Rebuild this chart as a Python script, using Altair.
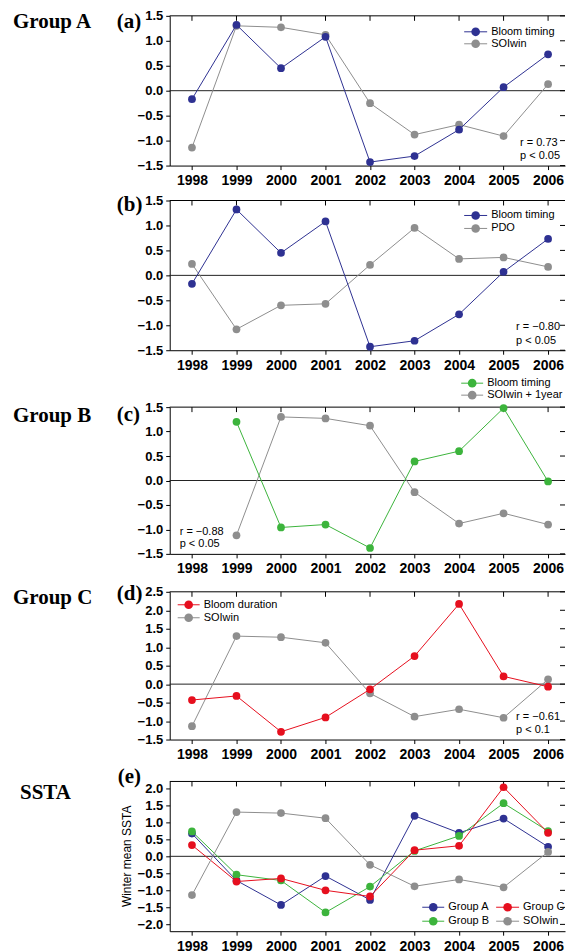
import altair as alt
import pandas as pd

years = [1998, 1999, 2000, 2001, 2002, 2003, 2004, 2005, 2006]
years_lag = [1999, 2000, 2001, 2002, 2003, 2004, 2005, 2006]

bloom_timing_a = [-0.17, 1.32, 0.45, 1.08, -1.43, -1.31, -0.78, 0.07, 0.73]
soi_win = [-1.14, 1.30, 1.27, 1.12, -0.25, -0.88, -0.68, -0.91, 0.13]
pdo = [0.23, -1.08, -0.60, -0.57, 0.21, 0.95, 0.33, 0.36, 0.17]
bloom_timing_b = [1.20, -0.96, -0.90, -1.38, 0.39, 0.60, 1.48, -0.02]
soi_win_lag = [-1.12, 1.30, 1.27, 1.12, -0.24, -0.88, -0.67, -0.90]
bloom_duration_c = [-0.43, -0.32, -1.29, -0.90, -0.14, 0.76, 2.17, 0.21, -0.07]
ssta_a = [0.67, -0.71, -1.43, -0.58, -1.28, 1.19, 0.69, 1.11, 0.28]
ssta_b = [0.73, -0.54, -0.71, -1.65, -0.89, 0.16, 0.60, 1.56, 0.74]
ssta_c = [0.33, -0.74, -0.65, -1.00, -1.18, 0.18, 0.31, 2.03, 0.69]

ticks_ab = [-1.5, -1.0, -0.5, 0.0, 0.5, 1.0, 1.5]
ticks_d = [-1.5, -1.0, -0.5, 0.0, 0.5, 1.0, 1.5, 2.0, 2.5]
ticks_e = [-2.0, -1.5, -1.0, -0.5, 0.0, 0.5, 1.0, 1.5, 2.0]

BLUE = "#2e3192"
GRAY = "#8e8e8e"
GREEN = "#3cb43c"
RED = "#e60f1e"
FONT = "Liberation Sans"
SERIF = "Liberation Serif"
W = 396
X_DOMAIN = [1997.5, 2006.38]
BELOW = 24

one = pd.DataFrame({"k": [0]})


def make_xy(ydom, yticks):
    X = alt.X("year:Q",
              scale=alt.Scale(domain=X_DOMAIN, nice=False, zero=False),
              axis=alt.Axis(values=years, format="d", title=None, grid=False,
                            tickSize=4, labelPadding=4, labelFont=FONT,
                            labelFontSize=14, labelFontWeight="bold",
                            labelColor="black", domainColor="black",
                            tickColor="black", labelFlush=False,
                            labelOverlap=False))
    Y = alt.Y("value:Q",
              scale=alt.Scale(domain=ydom, nice=False, zero=False),
              axis=alt.Axis(values=yticks, format=".1f", title=None, grid=False,
                            tickSize=4, labelPadding=3, labelFont=FONT,
                            labelFontSize=13, labelFontWeight="bold",
                            labelColor="black", domainColor="black",
                            tickColor="black", labelFlush=False,
                            labelOverlap=False))
    return X, Y


def txt(s, x, y, size=11, font=FONT, weight="normal", baseline="middle",
        align="left", angle=0):
    return alt.Chart(one).mark_text(
        text=s, fontSize=size, font=font, fontWeight=weight,
        baseline=baseline, align=align, angle=angle, color="black"
    ).encode(x=alt.value(x), y=alt.value(y))


def series(xs, vs, color, X, Y):
    df = pd.DataFrame({"year": xs, "value": vs})
    base = alt.Chart(df).encode(x=X, y=Y)
    return [base.mark_line(color=color, strokeWidth=1),
            base.mark_circle(color=color, size=60, opacity=1)]


def legend_entry(label, color, x0, y0, length=23):
    line = alt.Chart(one).mark_rule(color=color, strokeWidth=1).encode(
        x=alt.value(x0), x2=alt.value(x0 + length), y=alt.value(y0))
    dot = alt.Chart(one).mark_circle(color=color, size=75, opacity=1).encode(
        x=alt.value(x0 + length / 2), y=alt.value(y0))
    t = txt(label, x0 + length + 4, y0)
    return [line, dot, t]


def frame(X, Y, yticks, H, above, below=BELOW):
    zero = alt.Chart(pd.DataFrame({"value": [0.0]})).mark_rule(
        color="#222222", strokeWidth=1).encode(y=Y)
    top = alt.Chart(one).mark_rule(color="black", strokeWidth=1).encode(
        x=alt.value(0), x2=alt.value(W), y=alt.value(0))
    top_ticks = alt.Chart(pd.DataFrame({"year": years})).mark_rule(
        color="black", strokeWidth=1).encode(x=X, y=alt.value(0), y2=alt.value(5))
    right_ticks = alt.Chart(pd.DataFrame({"value": yticks})).mark_rule(
        color="black", strokeWidth=1).encode(y=Y, x=alt.value(W - 5), x2=alt.value(W))
    extent = alt.Chart(one).mark_rule(opacity=0, strokeWidth=0).encode(
        x=alt.value(-157), y=alt.value(-above), y2=alt.value(H + below))
    return [zero, top, top_ticks, right_ticks, extent]


# Panel (a)
Ha = 150
Xa, Ya = make_xy([-1.5, 1.5], ticks_ab)
pa = alt.layer(
    *frame(Xa, Ya, ticks_ab, Ha, 7),
    *series(years, soi_win, GRAY, Xa, Ya),
    *series(years, bloom_timing_a, BLUE, Xa, Ya),
    *legend_entry("Bloom timing", BLUE, 295, 16),
    *legend_entry("SOIwin", GRAY, 295, 28),
    txt("r = 0.73", 351, 127), txt("p < 0.05", 351, 140),
    txt("Group A", -157, 12, size=21, font=SERIF, weight="bold", baseline="alphabetic"),
    txt("(a)", -53, 12, size=21, font=SERIF, weight="bold", baseline="alphabetic"),
).properties(width=W, height=Ha)

# Panel (b)
Hb = 150
Xb, Yb = make_xy([-1.5, 1.5], ticks_ab)
pb = alt.layer(
    *frame(Xb, Yb, ticks_ab, Hb, 11),
    *series(years, pdo, GRAY, Xb, Yb),
    *series(years, bloom_timing_a, BLUE, Xb, Yb),
    *legend_entry("Bloom timing", BLUE, 295, 15),
    *legend_entry("PDO", GRAY, 295, 28),
    txt("r = \u22120.80", 347, 127), txt("p < 0.05", 347, 141),
    txt("(b)", -53, 11, size=21, font=SERIF, weight="bold", baseline="alphabetic"),
).properties(width=W, height=Hb)

# Panel (c)
Hc = 147
Xc, Yc = make_xy([-1.5, 1.5], ticks_ab)
pc = alt.layer(
    *frame(Xc, Yc, ticks_ab, Hc, 33),
    *series(years_lag, soi_win_lag, GRAY, Xc, Yc),
    *series(years_lag, bloom_timing_b, GREEN, Xc, Yc),
    *legend_entry("Bloom timing", GREEN, 292, -24, length=22),
    *legend_entry("SOIwin + 1year", GRAY, 292, -12, length=22),
    txt("r = \u22120.88", 10, 125), txt("p < 0.05", 10, 137),
    txt("Group B", -157, 15, size=21, font=SERIF, weight="bold", baseline="alphabetic"),
    txt("(c)", -53, 14, size=21, font=SERIF, weight="bold", baseline="alphabetic"),
).properties(width=W, height=Hc)

# Panel (d)
Hd = 148
Xd, Yd = make_xy([-1.5, 2.5], ticks_d)
pdd = alt.layer(
    *frame(Xd, Yd, ticks_d, Hd, 14),
    *series(years, soi_win, GRAY, Xd, Yd),
    *series(years, bloom_duration_c, RED, Xd, Yd),
    *legend_entry("Bloom duration", RED, 8, 13, length=22),
    *legend_entry("SOIwin", GRAY, 8, 26, length=22),
    txt("r = \u22120.61", 347, 125), txt("p < 0.1", 347, 138),
    txt("Group C", -157, 12, size=21, font=SERIF, weight="bold", baseline="alphabetic"),
    txt("(d)", -53, 8, size=21, font=SERIF, weight="bold", baseline="alphabetic"),
).properties(width=W, height=Hd)

# Panel (e)
He = 150
Xe, Ye = make_xy([-2.2, 2.2], ticks_e)
pe = alt.layer(
    *frame(Xe, Ye, ticks_e, He, 18, below=22),
    *series(years, ssta_a, BLUE, Xe, Ye),
    *series(years, ssta_b, GREEN, Xe, Ye),
    *series(years, ssta_c, RED, Xe, Ye),
    *series(years, soi_win, GRAY, Xe, Ye),
    *legend_entry("Group A", BLUE, 253, 126, length=22),
    *legend_entry("Group B", GREEN, 253, 140, length=22),
    *legend_entry("Group C", RED, 327, 126, length=23),
    *legend_entry("SOIwin", GRAY, 327, 140, length=23),
    txt("Winter mean SSTA", -43, 75, size=12, baseline="middle", align="center", angle=270),
    txt("SSTA", -150, 18, size=21, font=SERIF, weight="bold", baseline="alphabetic"),
    txt("(e)", -52, 2, size=21, font=SERIF, weight="bold", baseline="alphabetic"),
).properties(width=W, height=He)

chart = alt.vconcat(pa, pb, pc, pdd, pe, spacing=0).properties(
    padding={"left": 5, "top": 0, "right": 0, "bottom": 0}
).configure_view(strokeWidth=0)

chart.save("out.html", embed_options={"renderer": "svg", "actions": False})
